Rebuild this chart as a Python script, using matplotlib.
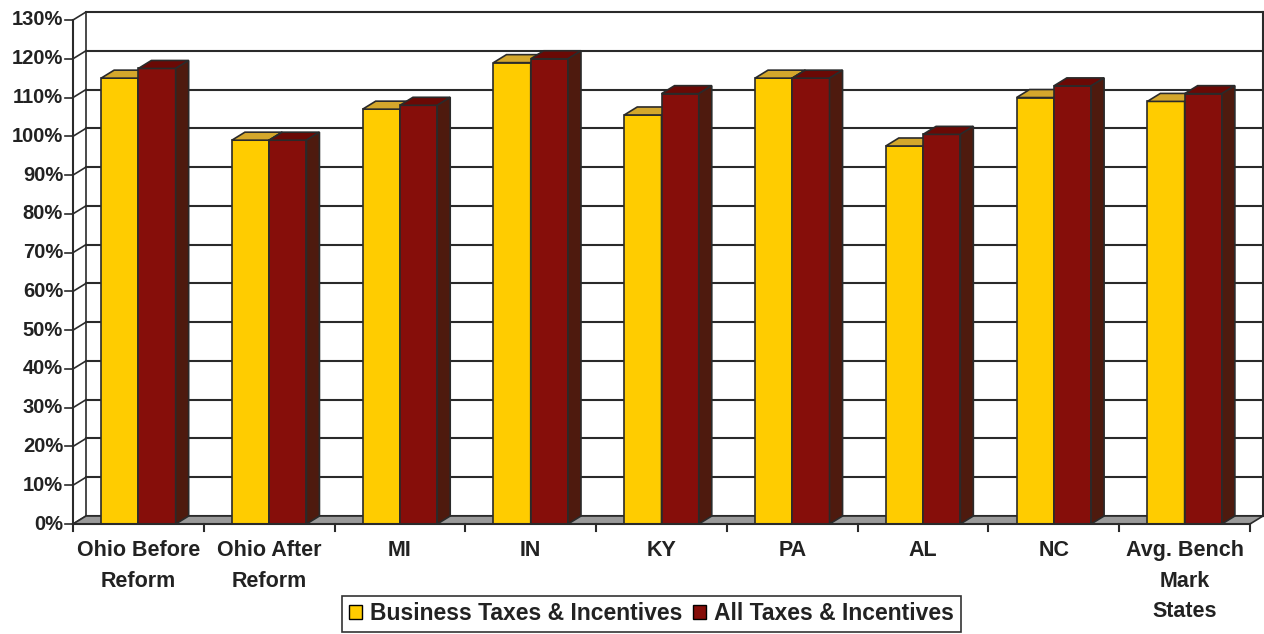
import matplotlib
matplotlib.use("Agg")
import matplotlib.pyplot as plt
from matplotlib.patches import Polygon, Patch

# data (percent)
categories = ["Ohio Before\nReform", "Ohio After\nReform", "MI", "IN", "KY",
              "PA", "AL", "NC", "Avg. Bench\nMark\nStates"]
business = [115, 99, 107, 119, 105.5, 115, 97.5, 110, 109]
all_taxes = [117.5, 99, 108, 120, 111, 115, 100.5, 113, 111]
y_ticks = list(range(0, 131, 10))
series_names = ["Business Taxes & Incentives", "All Taxes & Incentives"]

# colours: front, top, side
yellow = ("#FFCC00", "#D4A72C", "#B08A10")
red = ("#860E0A", "#6A0905", "#4E1A0E")
edge = "#2a2a2a"
text_col = "#222222"

plt.rcParams["font.family"] = ["Liberation Sans", "DejaVu Sans"]
plt.rcParams["font.weight"] = "bold"

fig = plt.figure(figsize=(12.64, 6.34), dpi=100)
ax = fig.add_axes([0, 0, 1, 1])
ax.axis("off")

n = len(categories)
# front plane: x 0..n spans 73..1250 px, y 0..130 spans 524..20 px
px_x = 1177 / n
px_y = 504 / 130
ax.set_xlim(-73 / px_x, n + 14 / px_x)
ax.set_ylim(-110 / px_y, 130 + 20 / px_y)

dx = 13 / px_x   # depth offset
dy = 8 / px_y
top = y_ticks[-1]

# floor
ax.add_patch(Polygon([(0, 0), (n, 0), (n + dx, dy), (dx, dy)], closed=True,
                     facecolor="#9a9a9a", edgecolor=edge, lw=1.2, zorder=1))

# back wall grid and side wall grid
for t in y_ticks:
    ax.plot([dx, n + dx], [t + dy, t + dy], color=edge, lw=1.5, zorder=0.5)
    ax.plot([0, dx], [t, t + dy], color=edge, lw=1.2, zorder=0.5)
    ax.plot([-8 / px_x, 0], [t, t], color=edge, lw=1.2, zorder=0.5)
    ax.text(-10 / px_x, t, f"{t}%", ha="right", va="center",
            fontsize=14.5, color=text_col, fontweight="bold")

ax.plot([n + dx, n + dx], [dy, top + dy], color=edge, lw=1.5, zorder=0.5)
ax.plot([dx, dx], [dy, top + dy], color=edge, lw=1.2, zorder=0.5)
ax.plot([0, 0], [0, top], color=edge, lw=1.5, zorder=0.5)

# front x axis with ticks
ax.plot([0, n], [0, 0], color=edge, lw=1.5, zorder=5)
for i in range(n + 1):
    ax.plot([i, i], [0, -7 / px_y], color=edge, lw=1.5, zorder=5)


def bar3d(x0, x1, v, cols, z):
    front, topc, side = cols
    ax.add_patch(Polygon([(x0, 0), (x1, 0), (x1, v), (x0, v)], closed=True,
                         facecolor=front, edgecolor=edge, lw=1.2, zorder=z))
    ax.add_patch(Polygon([(x0, v), (x1, v), (x1 + dx, v + dy), (x0 + dx, v + dy)],
                         closed=True, facecolor=topc, edgecolor=edge, lw=1.2, zorder=z))
    ax.add_patch(Polygon([(x1, 0), (x1 + dx, dy), (x1 + dx, v + dy), (x1, v)],
                         closed=True, facecolor=side, edgecolor=edge, lw=1.2, zorder=z))


w = 0.285
for i in range(n):
    c = i + 0.5
    bar3d(c - w, c, business[i], yellow, 2)
    bar3d(c, c + w, all_taxes[i], red, 3)
    ax.text(c, -16 / px_y, categories[i], ha="center", va="top",
            fontsize=15.5, color=text_col, fontweight="bold", linespacing=1.6)

handles = [Patch(facecolor=yellow[0], edgecolor="black"),
           Patch(facecolor=red[0], edgecolor="black")]
leg = fig.legend(handles, series_names, loc="center",
                 bbox_to_anchor=(651.5 / 1264, 1 - 614 / 634), ncol=2,
                 frameon=True, fancybox=False, edgecolor="black",
                 handlelength=0.55, handleheight=0.55, handletextpad=0.35,
                 columnspacing=0.5, borderpad=0.3, borderaxespad=0,
                 prop={"size": 16.5, "weight": "bold"})
leg.get_frame().set_linewidth(1.2)
for t in leg.get_texts():
    t.set_color(text_col)

fig.savefig("out.png", dpi=100)
